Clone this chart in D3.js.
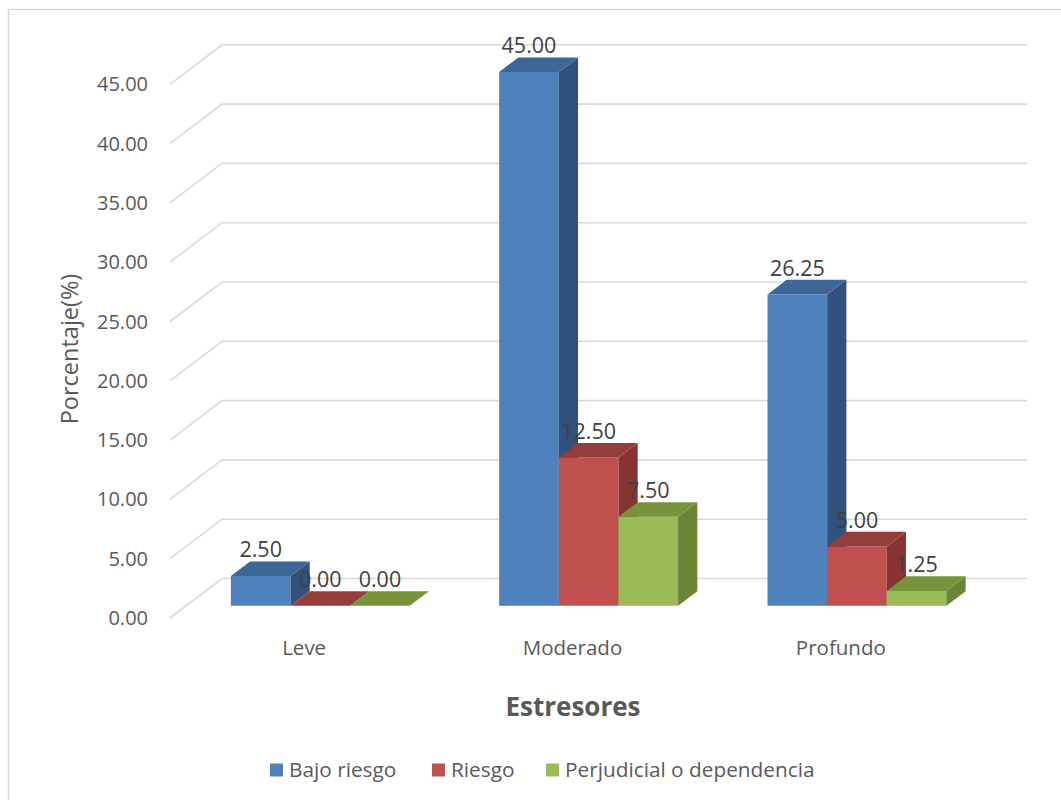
<!DOCTYPE html>
<html>
<head>
<meta charset="utf-8">
<script src="https://cdn.jsdelivr.net/npm/d3@7"></script>
<style>
  body { margin: 0; background: #ffffff; }
  text { font-family: "Open Sans", "Noto Sans", sans-serif; }
</style>
</head>
<body>
<svg id="chart" width="1061" height="800"></svg>
<script>
// Categories and series
const categories = ["Leve", "Moderado", "Profundo"];
const seriesNames = ["Bajo riesgo", "Riesgo", "Perjudicial o dependencia"];
const bajoRiesgo = [2.50, 45.00, 26.25];
const riesgo = [0.00, 12.50, 5.00];
const perjudicial = [0.00, 7.50, 1.25];
const yTicks = [0, 5, 10, 15, 20, 25, 30, 35, 40, 45];
const yTitle = "Porcentaje(%)";
const xTitle = "Estresores";

const seriesValues = [bajoRiesgo, riesgo, perjudicial];
// front, top, side shades for each series
const palette = [
  { front: "#4f81bd", top: "#3d6797", side: "#31527c" },
  { front: "#c0504d", top: "#953d3b", side: "#873432" },
  { front: "#9bbb59", top: "#77933c", side: "#6a8536" }
];

const svg = d3.select("#chart");

// chart frame
svg.append("rect")
  .attr("x", 8.5).attr("y", 9.5)
  .attr("width", 1070).attr("height", 800)
  .attr("fill", "none").attr("stroke", "#d9d9d9").attr("stroke-width", 1.5);

// front plane scales
const x0 = d3.scaleBand().domain(categories).range([170, 975]).paddingInner(0).paddingOuter(0);
const x1 = d3.scaleBand().domain(d3.range(seriesNames.length))
  .range([0, x0.bandwidth()]).paddingInner(0).paddingOuter(0.75);
const y = d3.scaleLinear().domain([0, 45]).range([618, 84.3]);

// oblique depth vector (full floor depth)
const depth = { dx: 52, dy: -39.5 };
const fFront = 0.31, fBack = 0.68;
const proj = (px, v, f) => [px + f * depth.dx, y(v) + f * depth.dy];

const xLeft = x0.range()[0];
const xRight = x0.range()[1];

// gridlines: left wall diagonal + back wall horizontal
const grid = svg.append("g");
yTicks.forEach(t => {
  const pts = [proj(xLeft, t, 0), proj(xLeft, t, 1), proj(xRight, t, 1)];
  grid.append("path")
    .attr("d", d3.line()(pts))
    .attr("fill", "none").attr("stroke", "#d9d9d9").attr("stroke-width", 1.6);
});

// y tick labels
svg.append("g").selectAll("text").data(yTicks).join("text")
  .attr("x", xLeft - 22).attr("y", d => y(d))
  .attr("dy", "0.35em")
  .attr("text-anchor", "end")
  .attr("font-size", 20).attr("fill", "#595959")
  .text(d => d3.format(".2f")(d));

// bars, drawn left to right so neighbouring fronts hide earlier side faces
const bars = svg.append("g");
const labelData = [];
categories.forEach((c, ci) => {
  seriesValues.forEach((vals, si) => {
    const v = vals[ci];
    const xl = x0(c) + x1(si);
    const xr = xl + x1.bandwidth();
    const col = palette[si];
    const poly = pts => d3.line()(pts) + "Z";
    // front
    bars.append("path")
      .attr("d", poly([proj(xl, 0, fFront), proj(xr, 0, fFront), proj(xr, v, fFront), proj(xl, v, fFront)]))
      .attr("fill", col.front);
    // side
    bars.append("path")
      .attr("d", poly([proj(xr, 0, fFront), proj(xr, 0, fBack), proj(xr, v, fBack), proj(xr, v, fFront)]))
      .attr("fill", col.side);
    // top
    bars.append("path")
      .attr("d", poly([proj(xl, v, fFront), proj(xr, v, fFront), proj(xr, v, fBack), proj(xl, v, fBack)]))
      .attr("fill", col.top);
    const frontMid = proj((xl + xr) / 2, v, fFront);
    const topBack = proj((xl + xr) / 2, v, fBack);
    labelData.push({ x: frontMid[0], y: topBack[1] - 4, v });
  });
});

// value labels
svg.append("g").selectAll("text").data(labelData).join("text")
  .attr("x", d => d.x).attr("y", d => d.y)
  .attr("text-anchor", "middle")
  .attr("font-size", 21.5).attr("fill", "#404040")
  .text(d => d3.format(".2f")(d.v));

// category labels
svg.append("g").selectAll("text").data(categories).join("text")
  .attr("x", d => x0(d) + x0.bandwidth() / 2).attr("y", 648)
  .attr("dy", "0.35em")
  .attr("text-anchor", "middle")
  .attr("font-size", 20.5).attr("fill", "#595959")
  .text(d => d);

// axis titles
svg.append("text")
  .attr("transform", "translate(70,349) rotate(-90)")
  .attr("text-anchor", "middle").attr("dy", "0.35em")
  .attr("font-size", 23.5).attr("fill", "#595959")
  .text(yTitle);

svg.append("text")
  .attr("x", 573).attr("y", 707).attr("dy", "0.35em")
  .attr("text-anchor", "middle")
  .attr("font-size", 26).attr("font-weight", "bold").attr("fill", "#595959")
  .text(xTitle);

// legend
const legendX = [270, 432, 546];
const legend = svg.append("g").selectAll("g").data(seriesNames).join("g")
  .attr("transform", (d, i) => `translate(${legendX[i]},770)`);
legend.append("rect")
  .attr("x", 0).attr("y", -6.5).attr("width", 13).attr("height", 13)
  .attr("fill", (d, i) => palette[i].front);
legend.append("text")
  .attr("x", 19).attr("y", 0).attr("dy", "0.35em")
  .attr("font-size", 20.8).attr("fill", "#595959")
  .text(d => d);
</script>
</body>
</html>
